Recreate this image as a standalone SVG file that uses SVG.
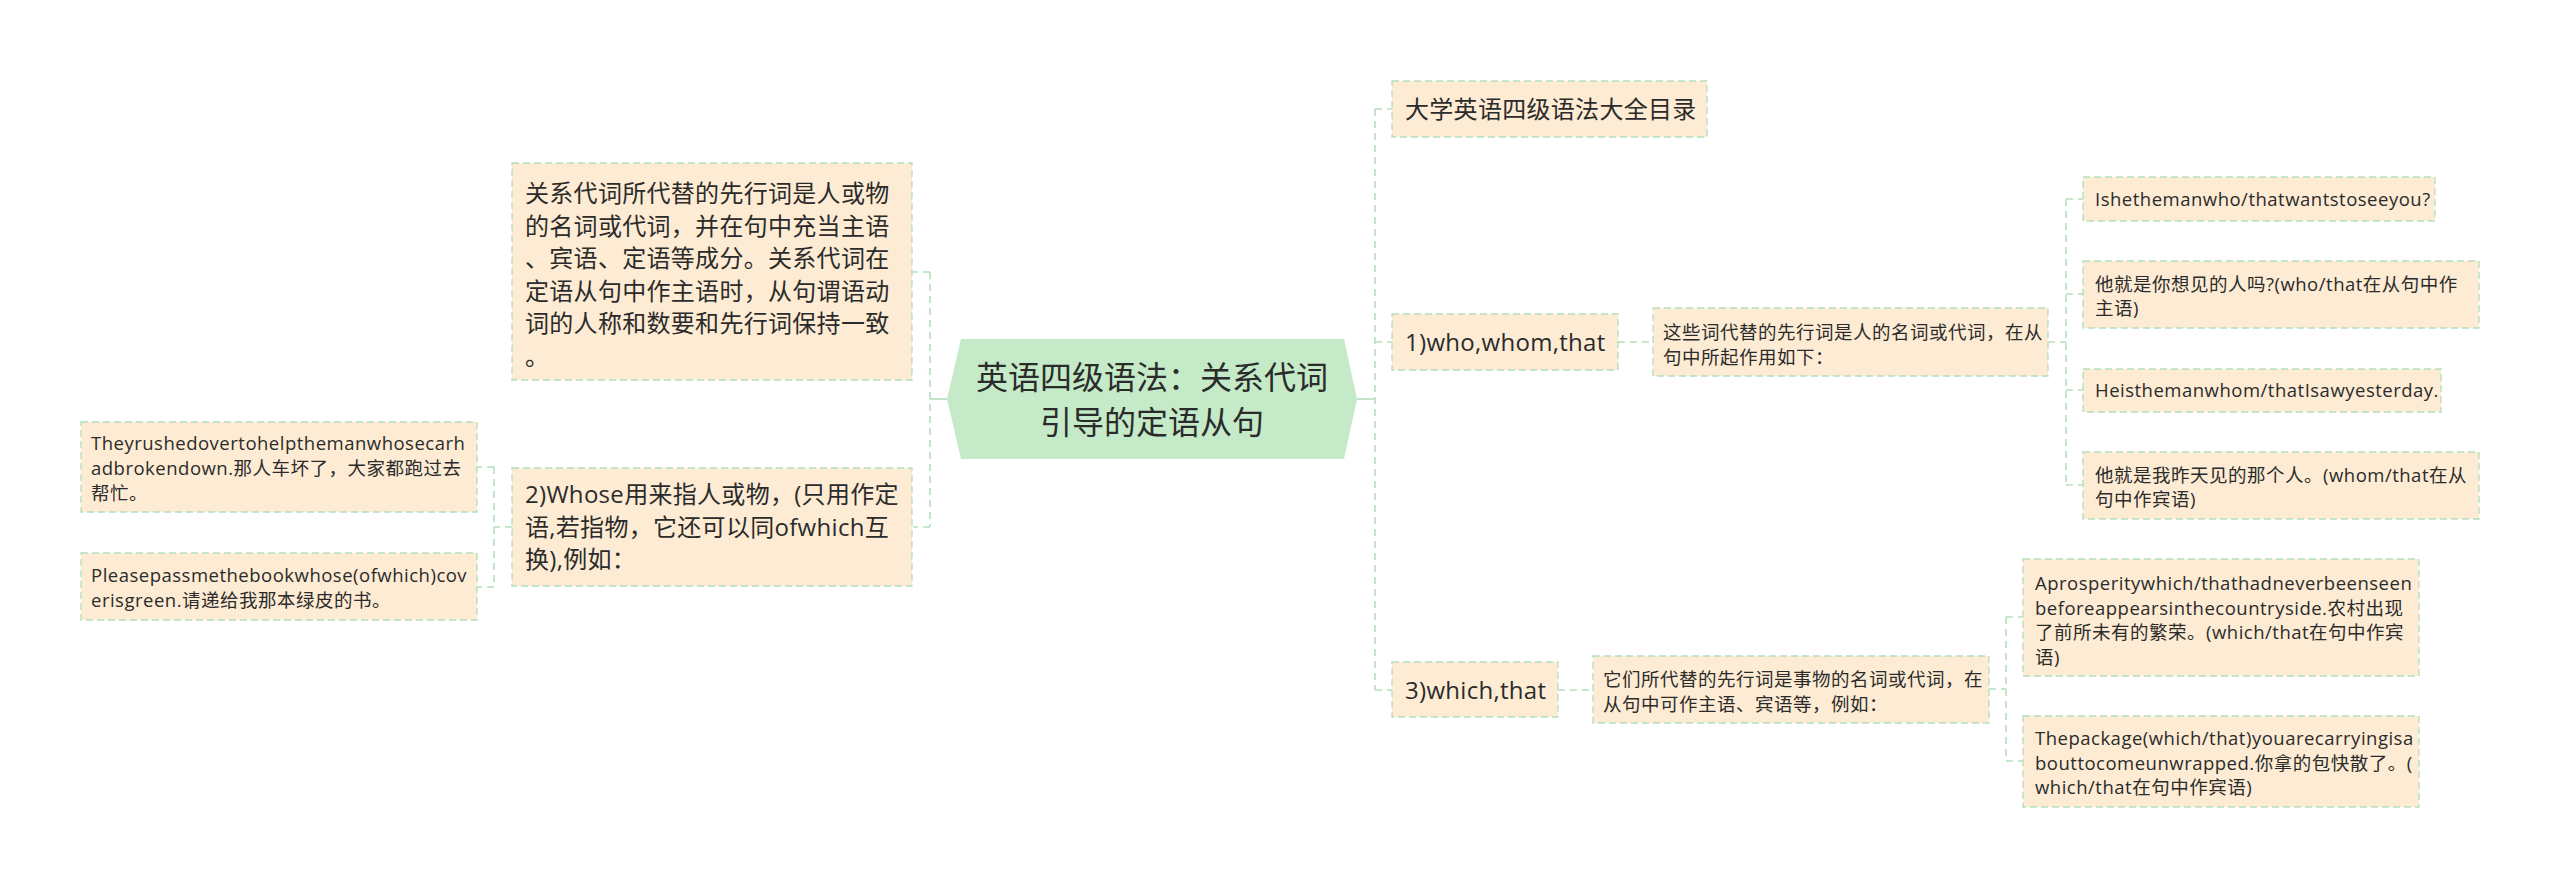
<svg xmlns="http://www.w3.org/2000/svg" width="2560" height="888" viewBox="0 0 2560 888">
<style>
.bg{fill:#ffffff}
.node{fill:#fdebd4;stroke:#b3dfbb;stroke-width:1.3;stroke-dasharray:7,4}
.root{fill:#c4eac8;stroke:none}
.conn{fill:none;stroke:#b3dfbb;stroke-width:1.6;stroke-dasharray:7,5}
.solid{fill:none;stroke:#b3dfbb;stroke-width:1.6}
text{fill:#2b2b2b;font-family:"Open Sans","Noto Sans CJK SC",sans-serif}
.t32{font-size:32px}
.t24{font-size:24px;letter-spacing:0.3px}
.t18{font-size:18.5px;letter-spacing:0.5px}
</style>
<rect class="bg" x="0" y="0" width="2560" height="888"/>
<g id="connectors">
  <path class="solid" d="M947,399 H930"/>
  <path class="conn" d="M930,272 V527 M930,272 H913 M930,527 H913"/>
  <path class="conn" d="M512,527 H494 M494,467 V587 M494,467 H477 M494,587 H477"/>
  <path class="solid" d="M1357,399 H1375"/>
  <path class="conn" d="M1375,109 V690 M1375,109 H1392 M1375,342 H1392 M1375,690 H1392"/>
  <path class="conn" d="M1618,342 H1653"/>
  <path class="conn" d="M2048,342 H2066 M2066,199 V485 M2066,199 H2083 M2066,294 H2083 M2066,390 H2083 M2066,485 H2083"/>
  <path class="conn" d="M1558,690 H1593"/>
  <path class="conn" d="M1989,689 H2006 M2006,617 V761 M2006,617 H2023 M2006,761 H2023"/>
</g>
<g id="root">
  <polygon class="root" points="947,399 961,339 1344,339 1357,399 1344,459 961,459"/>
  <text class="t32" x="1152" y="389" text-anchor="middle">英语四级语法：关系代词</text>
  <text class="t32" x="1152" y="434" text-anchor="middle">引导的定语从句</text>
</g>
<g id="node-a">
  <rect class="node" x="512" y="163" width="400" height="217"/>
  <text class="t24" x="525" y="202">关系代词所代替的先行词是人或物</text>
  <text class="t24" x="525" y="234.5">的名词或代词，并在句中充当主语</text>
  <text class="t24" x="525" y="267">、宾语、定语等成分。关系代词在</text>
  <text class="t24" x="525" y="299.5">定语从句中作主语时，从句谓语动</text>
  <text class="t24" x="525" y="332">词的人称和数要和先行词保持一致</text>
  <text class="t24" x="525" y="364.5">。</text>
</g>
<g id="node-b">
  <rect class="node" x="512" y="468" width="400" height="118"/>
  <text class="t24" x="525" y="503">2)Whose用来指人或物，(只用作定</text>
  <text class="t24" x="525" y="535.5">语,若指物，它还可以同ofwhich互</text>
  <text class="t24" x="525" y="568">换),例如：</text>
</g>
<g id="node-c">
  <rect class="node" x="81" y="422" width="396" height="90"/>
  <text class="t18" x="91" y="450">Theyrushedovertohelpthemanwhosecarh</text>
  <text class="t18" x="91" y="475">adbrokendown.那人车坏了，大家都跑过去</text>
  <text class="t18" x="91" y="500">帮忙。</text>
</g>
<g id="node-d">
  <rect class="node" x="81" y="553" width="396" height="67"/>
  <text class="t18" x="91" y="582">Pleasepassmethebookwhose(ofwhich)cov</text>
  <text class="t18" x="91" y="607">erisgreen.请递给我那本绿皮的书。</text>
</g>
<g id="node-e">
  <rect class="node" x="1392" y="81" width="315" height="56"/>
  <text class="t24" x="1405" y="118">大学英语四级语法大全目录</text>
</g>
<g id="node-f">
  <rect class="node" x="1392" y="314" width="226" height="56"/>
  <text class="t24" x="1405" y="351">1)who,whom,that</text>
</g>
<g id="node-g">
  <rect class="node" x="1653" y="308" width="395" height="68"/>
  <text class="t18" x="1663" y="339">这些词代替的先行词是人的名词或代词，在从</text>
  <text class="t18" x="1663" y="364">句中所起作用如下：</text>
</g>
<g id="node-h1">
  <rect class="node" x="2083" y="177" width="352" height="44"/>
  <text class="t18" x="2095" y="206">Ishethemanwho/thatwantstoseeyou?</text>
</g>
<g id="node-h2">
  <rect class="node" x="2083" y="261" width="396" height="67"/>
  <text class="t18" x="2095" y="291">他就是你想见的人吗?(who/that在从句中作</text>
  <text class="t18" x="2095" y="315">主语)</text>
</g>
<g id="node-h3">
  <rect class="node" x="2083" y="369" width="358" height="43"/>
  <text class="t18" x="2095" y="397">Heisthemanwhom/thatIsawyesterday.</text>
</g>
<g id="node-h4">
  <rect class="node" x="2083" y="452" width="396" height="67"/>
  <text class="t18" x="2095" y="482">他就是我昨天见的那个人。(whom/that在从</text>
  <text class="t18" x="2095" y="506">句中作宾语)</text>
</g>
<g id="node-i">
  <rect class="node" x="1392" y="662" width="166" height="55"/>
  <text class="t24" x="1405" y="699">3)which,that</text>
</g>
<g id="node-j">
  <rect class="node" x="1593" y="656" width="396" height="67"/>
  <text class="t18" x="1603" y="686">它们所代替的先行词是事物的名词或代词，在</text>
  <text class="t18" x="1603" y="711">从句中可作主语、宾语等，例如：</text>
</g>
<g id="node-k1">
  <rect class="node" x="2023" y="559" width="396" height="117"/>
  <text class="t18" x="2035" y="590">Aprosperitywhich/thathadneverbeenseen</text>
  <text class="t18" x="2035" y="614.5">beforeappearsinthecountryside.农村出现</text>
  <text class="t18" x="2035" y="639">了前所未有的繁荣。(which/that在句中作宾</text>
  <text class="t18" x="2035" y="663.5">语)</text>
</g>
<g id="node-k2">
  <rect class="node" x="2023" y="716" width="396" height="91"/>
  <text class="t18" x="2035" y="745">Thepackage(which/that)youarecarryingisa</text>
  <text class="t18" x="2035" y="770">bouttocomeunwrapped.你拿的包快散了。(</text>
  <text class="t18" x="2035" y="794">which/that在句中作宾语)</text>
</g>
</svg>
